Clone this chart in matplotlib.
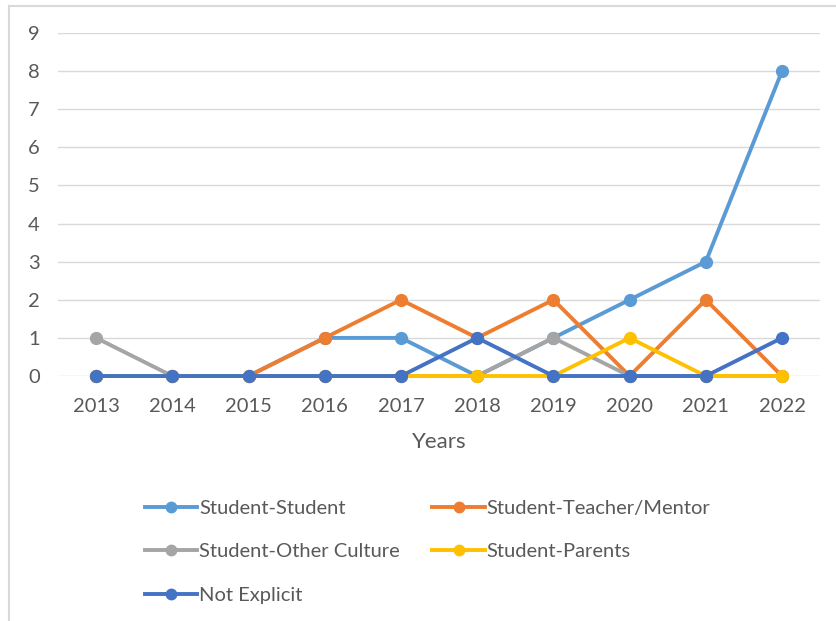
import matplotlib.pyplot as plt
from matplotlib.lines import Line2D

# ---- Data ----
years = [2013, 2014, 2015, 2016, 2017, 2018, 2019, 2020, 2021, 2022]
student_student = [0, 0, 0, 1, 1, 0, 1, 2, 3, 8]
student_teacher = [0, 0, 0, 1, 2, 1, 2, 0, 2, 0]
student_other = [1, 0, 0, 0, 0, 0, 1, 0, 0, 0]
student_parents = [0, 0, 0, 0, 0, 0, 0, 1, 0, 0]
not_explicit = [0, 0, 0, 0, 0, 1, 0, 0, 0, 1]

series = [
    ("Student-Student", student_student, "#5B9BD5"),
    ("Student-Teacher/Mentor", student_teacher, "#ED7D31"),
    ("Student-Other Culture", student_other, "#A5A5A5"),
    ("Student-Parents", student_parents, "#FFC000"),
    ("Not Explicit", not_explicit, "#4472C4"),
]

plt.rcParams['font.family'] = ['Lato', 'DejaVu Sans']
txt_col = '#595959'

fig = plt.figure(figsize=(8.36, 6.21), dpi=100)
ax = fig.add_axes([0.0694, 0.3945, 0.9116, 0.5524])

handles = {}
for i, (name, vals, col) in enumerate(series):
    h, = ax.plot(years, vals, color=col, lw=2.8, marker='o', markersize=8.5,
                 label=name, zorder=3 + i, clip_on=False)
    handles[name] = h

ax.set_xlim(years[0] - 0.5, years[-1] + 0.5)
ax.set_ylim(0, 9)
ax.set_yticks(range(0, 10))
ax.set_xticks(years)
ax.grid(axis='y', color='#D9D9D9', lw=1)
ax.set_axisbelow(True)
for s in ax.spines.values():
    s.set_visible(False)
ax.tick_params(length=0, labelsize=14.5, colors=txt_col)
ax.tick_params(axis='x', pad=16)
ax.tick_params(axis='y', pad=13)
ax.set_xlabel("Years", fontsize=16, color=txt_col, labelpad=12)

# legend: row-major order like Excel
order = ["Student-Student", "Student-Other Culture", "Not Explicit",
         "Student-Teacher/Mentor", "Student-Parents"]
leg = fig.legend([handles[n] for n in order], order, ncol=2,
                 loc='upper left', bbox_to_anchor=(145 / 836, 1 - 500 / 621),
                 borderaxespad=0, borderpad=0,
                 frameon=False, fontsize=14.5, handlelength=2.6,
                 handletextpad=0.1, columnspacing=1.6, labelspacing=1.3,
                 labelcolor=txt_col)
for lh in leg.legend_handles:
    lh.set_markersize(7.5)

# light frame (top and left edges)
fig.add_artist(Line2D([9 / 836, 1], [1 - 6 / 621, 1 - 6 / 621],
                      transform=fig.transFigure, color='#D9D9D9', lw=1.5))
fig.add_artist(Line2D([9 / 836, 9 / 836], [0, 1 - 6 / 621],
                      transform=fig.transFigure, color='#D9D9D9', lw=1.5))

fig.savefig("out.png", dpi=100)
